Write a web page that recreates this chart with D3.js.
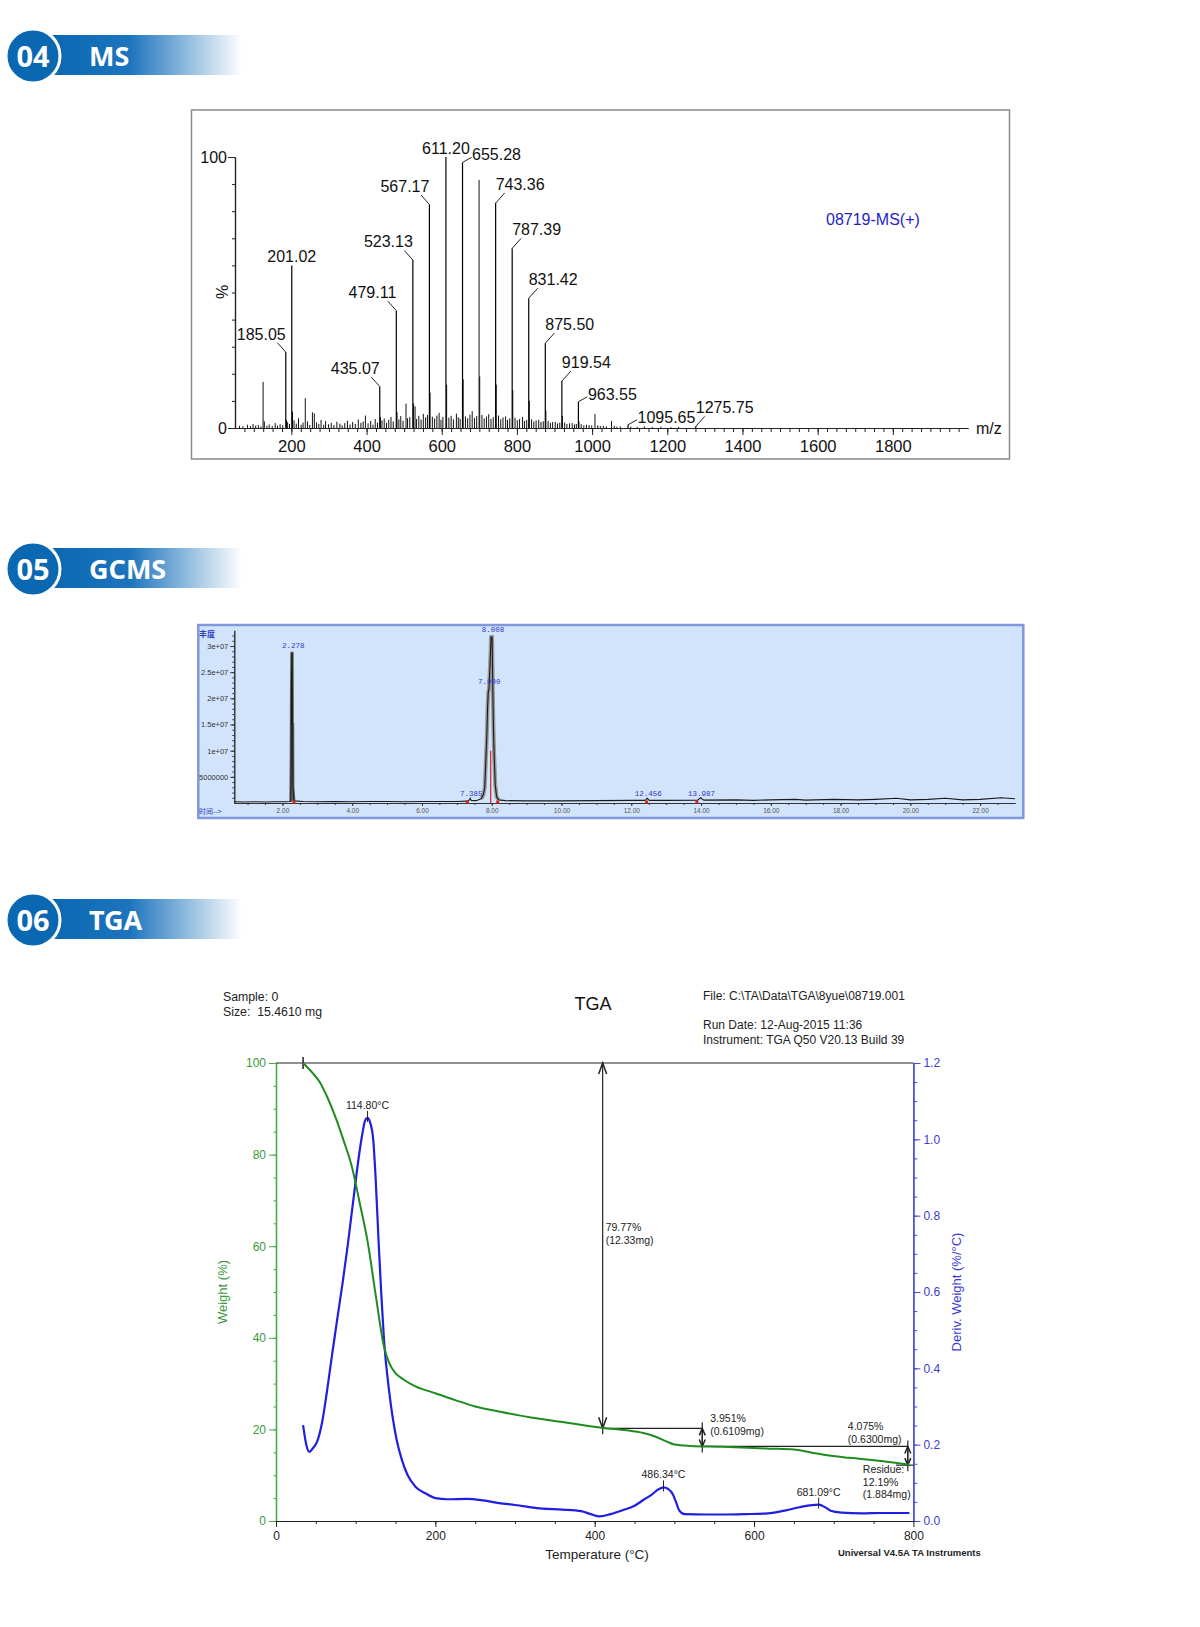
<!DOCTYPE html>
<html>
<head>
<meta charset="utf-8">
<script src="https://cdn.jsdelivr.net/npm/d3@7"></script>
<style>
  body { margin: 0; background: #fff; }
  svg { display: block; }
  text { font-family: "Liberation Sans", Arial, sans-serif; }
</style>
</head>
<body>
<div id="canvas"></div>
<script>
"use strict";

/* ---------------- Data ---------------- */

// section headers
let sectionNumbers = ["04", "05", "06"];
let sectionTitles = ["MS", "GCMS", "TGA"];

// MS: labelled peaks (m/z, relative intensity %)
let msLabelMz = [185.05, 201.02, 435.07, 479.11, 523.13, 567.17, 611.20, 655.28,
  743.36, 787.39, 831.42, 875.50, 919.54, 963.55, 1095.65, 1275.75];
let msLabelPct = [28, 60, 15.3, 43.3, 62, 82.5, 100, 98,
  83, 66.3, 47.9, 31.3, 17.3, 9.7, 1.2, 0.6];

// MS: unlabelled peaks [m/z, %]
let msOtherPeaks = [
  [124.7, 17], [237, 11], [699.3, 91.5], [1007.6, 5.2], [1051.6, 2.6],
  [187, 3], [203, 6], [437, 4], [481, 6], [525, 9], [569, 13], [613, 16], [657, 18],
  [701, 19], [745, 16], [789, 14], [833, 10], [877, 6.5], [921, 4.5], [965, 2.5],
  [62, 0.8], [71, 0.6], [83, 1.2], [91, 0.7], [98, 1.5], [105, 0.9], [112, 1.1], [119, 0.6],
  [128, 2.5], [135, 0.8], [141, 1.3], [149, 0.7], [157, 1.8], [163, 0.9], [170, 1.4], [177, 1.0],
  [190, 2.2], [195, 1.5], [207, 2.8], [213, 1.6], [219, 3.6], [226, 1.2], [231, 2.0], [243, 2.4],
  [249, 1.1], [256, 5.8], [261, 5.4], [267, 2.1], [273, 1.5], [279, 3.0], [286, 1.2], [291, 2.6],
  [299, 1.4], [306, 1.9], [313, 1.1], [321, 2.3], [329, 1.6], [335, 1.0], [342, 1.8], [349, 2.7],
  [356, 1.3], [363, 2.2], [370, 1.5], [378, 3.1], [385, 1.9], [391, 2.4], [397, 4.6], [404, 1.7],
  [411, 2.6], [417, 1.2], [423, 3.3], [429, 2.0], [441, 2.8], [447, 3.5], [453, 1.9], [459, 3.0],
  [465, 4.1], [471, 2.4], [486, 3.2], [491, 4.4], [497, 2.7], [505, 9.0], [509, 3.6], [515, 4.0],
  [529, 8.0], [533, 3.3], [539, 4.5], [545, 3.1], [551, 5.2], [557, 3.9], [562, 4.8], [575, 4.2],
  [581, 3.5], [587, 4.6], [593, 5.6], [598, 3.0], [603, 4.1], [619, 3.8], [625, 4.5], [631, 3.2],
  [639, 5.3], [644, 4.0], [649, 3.4], [663, 4.3], [669, 3.6], [675, 4.9], [681, 6.2], [687, 3.7],
  [693, 4.4], [707, 4.8], [713, 3.5], [719, 4.2], [725, 5.1], [731, 3.3], [737, 4.0], [751, 4.6],
  [757, 3.2], [763, 3.9], [770, 4.3], [775, 3.0], [781, 3.6], [795, 3.8], [801, 2.9], [807, 3.3],
  [815, 4.1], [820, 2.6], [826, 3.0], [839, 3.2], [845, 2.4], [851, 2.8], [858, 3.0], [864, 2.2],
  [870, 2.5], [883, 2.6], [889, 1.9], [895, 2.2], [902, 2.3], [908, 1.7], [914, 2.0], [927, 2.0],
  [933, 1.5], [940, 1.7], [947, 1.8], [953, 1.3], [958, 1.5], [971, 1.4], [978, 1.0], [985, 1.2],
  [992, 1.1], [999, 0.9], [1015, 1.0], [1022, 0.7], [1030, 0.8], [1038, 0.6], [1059, 0.8],
  [1066, 0.5], [1075, 0.6], [1103, 0.5], [1120, 0.4], [1139, 0.6], [1160, 0.4], [1183, 0.5],
  [1210, 0.3], [1230, 0.4]
];
let msTickValues = [200, 400, 600, 800, 1000, 1200, 1400, 1600, 1800];
let msTag = "08719-MS(+)";

// GCMS: chromatogram trace [time (min), abundance x 1e6]
let gcTrace = [
  [0.62, 0.25], [0.9, 0.2], [1.2, 0.25], [1.5, 0.2], [1.8, 0.25], [2.1, 0.25], [2.24, 0.3],
  [2.25, 8], [2.258, 21], [2.268, 28.6], [2.28, 28.6], [2.285, 15], [2.295, 15], [2.3, 3],
  [2.33, 0.4], [2.6, 0.3], [3.0, 0.25], [3.5, 0.3], [4.0, 0.25], [4.5, 0.3], [5.0, 0.3],
  [5.5, 0.25], [6.0, 0.3], [6.5, 0.3], [7.0, 0.3], [7.3, 0.35], [7.36, 0.6], [7.385, 0.9],
  [7.41, 0.5], [7.55, 0.45], [7.70, 0.8], [7.76, 1.6], [7.80, 3], [7.83, 8], [7.86, 13],
  [7.88, 18], [7.90, 21.2], [7.92, 21.8], [7.95, 26], [7.98, 31.7], [8.01, 31.7], [8.03, 22],
  [8.05, 14], [8.07, 9], [8.10, 3.5], [8.14, 1.2], [8.2, 0.6], [8.4, 0.45], [9.0, 0.4],
  [10.0, 0.4], [11.0, 0.45], [12.0, 0.5], [12.40, 0.5], [12.456, 0.9], [12.52, 0.5], [13.0, 0.5],
  [13.9, 0.55], [13.987, 1.0], [14.08, 0.55], [15.0, 0.6], [15.5, 0.5], [16.0, 0.6], [16.7, 0.7],
  [17.0, 0.55], [17.8, 0.7], [18.5, 0.6], [19.0, 0.7], [19.6, 0.9], [20.0, 0.6], [20.5, 0.7],
  [21.0, 0.9], [21.5, 0.6], [22.0, 0.7], [22.6, 1.0], [23.0, 0.8]
];
let gcPeakTimes = [2.278, 7.385, 7.900, 8.008, 12.456, 13.987];
let gcBaseMarks = [2.33, 7.30, 8.17, 12.44, 13.88];
let gcSplitTimes = [7.97];
let gcYTicks = [5e6, 1e7, 1.5e7, 2e7, 2.5e7, 3e7];
let gcYLabels = ["5000000", "1e+07", "1.5e+07", "2e+07", "2.5e+07", "3e+07"];
let gcXTicks = [2, 4, 6, 8, 10, 12, 14, 16, 18, 20, 22];

// TGA: weight (%) and derivative weight (%/°C) versus temperature (°C)
let tgaWeight = [
  [34, 100], [45, 98], [55, 95.8], [65, 92.3], [75, 88], [85, 83], [95, 77.5], [105, 69.5],
  [115, 61], [125, 49.5], [135, 38.5], [142, 34.5], [150, 32.3], [160, 30.9], [175, 29.4],
  [200, 27.9], [225, 26.4], [250, 25], [280, 23.9], [320, 22.6], [360, 21.6], [410, 20.3],
  [440, 19.8], [461, 19.2], [475, 18.5], [490, 17.4], [500, 16.7], [520, 16.4], [560, 16.2],
  [620, 15.8], [650, 15.6], [670, 15], [690, 14.4], [720, 13.8], [760, 13.1], [795, 12.3]
];
let tgaDeriv = [
  [34, 0.251], [38, 0.2], [42, 0.181], [46, 0.19], [52, 0.21], [58, 0.26], [64, 0.34],
  [70, 0.43], [77, 0.531], [84, 0.63], [90, 0.722], [97, 0.84], [103, 0.94], [108, 1.01],
  [112, 1.05], [114.8, 1.056], [118, 1.045], [122, 1.0], [125, 0.9], [129, 0.722], [132, 0.6],
  [135.5, 0.476], [142, 0.34], [151, 0.217], [158, 0.16], [165, 0.121], [175, 0.09],
  [188, 0.072], [200, 0.06], [215, 0.057], [240, 0.058], [260, 0.054], [280, 0.047],
  [300, 0.042], [331, 0.033], [360, 0.03], [383, 0.026], [395, 0.018], [406, 0.012],
  [420, 0.018], [435, 0.028], [450, 0.04], [461, 0.055], [472, 0.07], [480, 0.083],
  [486.34, 0.088], [492, 0.084], [498, 0.07], [502, 0.05], [506, 0.028], [513, 0.018],
  [540, 0.017], [565, 0.017], [590, 0.018], [617, 0.02], [640, 0.028], [657, 0.036],
  [670, 0.041], [681.09, 0.043], [690, 0.035], [696, 0.027], [710, 0.022], [735, 0.02],
  [760, 0.021], [780, 0.021], [795, 0.021]
];
let tgaPeakTemps = [114.80, 486.34, 681.09];
let tgaLevels = [100, 20.23, 16.28, 12.19];
let tgaStepTemps = [410, 535, 793];
let tgaStepPct = ["79.77%", "3.951%", "4.075%"];
let tgaStepMg = ["(12.33mg)", "(0.6109mg)", "(0.6300mg)"];
let tgaResidue = ["Residue:", "12.19%", "(1.884mg)"];
let tgaStartTemp = 34;
let tgaInfoLeft = ["Sample: 0", "Size:  15.4610 mg"];
let tgaInfoRight = ["File: C:\\TA\\Data\\TGA\\8yue\\08719.001",
  "Run Date: 12-Aug-2015 11:36", "Instrument: TGA Q50 V20.13 Build 39"];

/* ---------------- Canvas ---------------- */
let svgWidth = 1200;
let svgHeight = 1627;

let svg = d3.select("#canvas")
  .append("svg")
  .attr("width", svgWidth)
  .attr("height", svgHeight);

let defs = svg.append("defs");
let grad = defs.append("linearGradient").attr("id", "barGrad");
grad.append("stop").attr("offset", "0").attr("stop-color", "#0a67b2");
grad.append("stop").attr("offset", "0.42").attr("stop-color", "#1c74bd");
grad.append("stop").attr("offset", "1").attr("stop-color", "#ffffff");

/* ---------------- Section headers ---------------- */
let headerCy = [56, 569, 920];

sectionNumbers.forEach((num, i) => {
  let cy = headerCy[i];
  let g = svg.append("g");
  g.append("rect")
    .attr("x", 48).attr("y", cy - 21)
    .attr("width", 194).attr("height", 40)
    .attr("fill", "url(#barGrad)");
  g.append("circle")
    .attr("cx", 33).attr("cy", cy).attr("r", 27)
    .attr("fill", "#0a67b2")
    .attr("stroke", "#fff").attr("stroke-width", 3);
  g.append("text")
    .attr("x", 33).attr("y", cy + 11)
    .attr("text-anchor", "middle")
    .attr("fill", "#fff")
    .style("font-family", "'Noto Sans', sans-serif")
    .style("font-weight", "bold")
    .style("font-size", "29px")
    .text(num);
  g.append("text")
    .attr("x", 89).attr("y", cy + 10)
    .attr("fill", "#fff")
    .style("font-family", "'Noto Sans', sans-serif")
    .style("font-weight", "bold")
    .style("font-size", "27px")
    .text(sectionTitles[i]);
});

/* ---------------- MS spectrum ---------------- */
let ms = svg.append("g");

ms.append("rect")
  .attr("x", 191.5).attr("y", 110)
  .attr("width", 818).attr("height", 349)
  .attr("fill", "#fff")
  .attr("stroke", "#8a8a8a").attr("stroke-width", 1.5);

let msX = d3.scaleLinear().domain([50, 2000]).range([235, 968]);
let msY = d3.scaleLinear().domain([0, 100]).range([428, 157]);

// peaks
ms.selectAll("line.other")
  .data(msOtherPeaks)
  .join("line")
  .attr("class", "other")
  .attr("x1", d => msX(d[0])).attr("x2", d => msX(d[0]))
  .attr("y1", msY(0)).attr("y2", d => msY(d[1]))
  .attr("stroke", "#111").attr("stroke-width", 1);

let msLabelled = msLabelMz.map((m, i) => ({ mz: m, pct: msLabelPct[i] }));

ms.selectAll("line.major")
  .data(msLabelled)
  .join("line")
  .attr("class", "major")
  .attr("x1", d => msX(d.mz)).attr("x2", d => msX(d.mz))
  .attr("y1", msY(0)).attr("y2", d => msY(d.pct))
  .attr("stroke", "#000").attr("stroke-width", 1.2);

// axes
let msXMinor = ms.append("g")
  .attr("transform", `translate(0,${msY(0)})`)
  .call(d3.axisBottom(msX).tickValues(d3.range(75, 2000, 25)).tickSize(4).tickFormat("").tickSizeOuter(0));

let msXAxis = ms.append("g")
  .attr("transform", `translate(0,${msY(0)})`)
  .call(d3.axisBottom(msX).tickValues(msTickValues).tickSize(7).tickPadding(5)
    .tickFormat(d3.format("d")).tickSizeOuter(0));
msXAxis.selectAll("text").style("font-size", "16.5px").attr("fill", "#111");

let msYMinor = ms.append("g")
  .attr("transform", `translate(${msX(50)},0)`)
  .call(d3.axisLeft(msY).tickValues(d3.range(10, 100, 10)).tickSize(3).tickFormat("").tickSizeOuter(0));

let msYAxis = ms.append("g")
  .attr("transform", `translate(${msX(50)},0)`)
  .call(d3.axisLeft(msY).tickValues([0, 100]).tickSize(7).tickPadding(1).tickSizeOuter(0));
msYAxis.selectAll("text").style("font-size", "16px").attr("fill", "#111");

[msXMinor, msXAxis, msYMinor, msYAxis].forEach(a => {
  a.selectAll("line").attr("stroke", "#222");
  a.select(".domain").attr("stroke", "#222").attr("stroke-width", 1.2);
});

ms.append("text")
  .attr("x", 976).attr("y", 434)
  .style("font-size", "16px").attr("fill", "#111")
  .text("m/z");

ms.append("text")
  .attr("transform", `translate(228,292) rotate(-90)`)
  .attr("text-anchor", "middle")
  .style("font-size", "16px").attr("fill", "#111")
  .text("%");

ms.append("text")
  .attr("x", 826).attr("y", 225)
  .style("font-size", "16px").attr("fill", "#2323c8")
  .text(msTag);

// peak labels: c = centred above, l = up-left leader, r = up-right leader, s = side leader
let msLabelSide = ["l", "c", "l", "l", "l", "l", "c", "s",
  "r", "r", "r", "r", "r", "s", "s", "r"];
let fmt2 = d3.format(".2f");

msLabelled.forEach((d, i) => {
  let px = msX(d.mz);
  let top = msY(d.pct);
  let side = msLabelSide[i];
  let tx = px, ty = top - 3.5, anchor = "middle", leader = null;
  if (side === "l") {
    tx = px; ty = top - 12.5; anchor = "end";
    leader = [px - 8.5, top - 9.5, px, top];
  } else if (side === "r") {
    tx = px; ty = top - 13; anchor = "start";
    leader = [px, top, px + 9, top - 10];
  } else if (side === "s") {
    tx = px + 9.5; ty = top - 2; anchor = "start";
    leader = [px, top, px + 9, top - 5];
  }
  if (leader) {
    ms.append("line")
      .attr("x1", leader[0]).attr("y1", leader[1])
      .attr("x2", leader[2]).attr("y2", leader[3])
      .attr("stroke", "#222").attr("stroke-width", 1);
  }
  ms.append("text")
    .attr("x", tx).attr("y", ty)
    .attr("text-anchor", anchor)
    .style("font-size", "16px").attr("fill", "#111")
    .text(fmt2(d.mz));
});

/* ---------------- GCMS chromatogram ---------------- */
let gc = svg.append("g");

gc.append("rect")
  .attr("x", 198.3).attr("y", 625)
  .attr("width", 825).attr("height", 193)
  .attr("fill", "#d2e4fb")
  .attr("stroke", "#7f98dc").attr("stroke-width", 2.5);

let gcX = d3.scaleLinear().domain([0.62, 23]).range([234.3, 1015]);
let gcY = d3.scaleLinear().domain([0, 3.3e7]).range([803, 630.3]);

let gcYMinor = gc.append("g")
  .attr("transform", `translate(${gcX(0.62)},0)`)
  .call(d3.axisLeft(gcY).tickValues(d3.range(1e6, 3.3e7, 1e6)).tickSize(2).tickFormat("").tickSizeOuter(0));
let gcYAxis = gc.append("g")
  .attr("transform", `translate(${gcX(0.62)},0)`)
  .call(d3.axisLeft(gcY).tickValues(gcYTicks).tickSize(4).tickPadding(2)
    .tickFormat((d, i) => gcYLabels[i]).tickSizeOuter(0));
gcYAxis.selectAll("text").style("font-size", "7.5px").attr("fill", "#333");

let gcXMinor = gc.append("g")
  .attr("transform", `translate(0,${gcY(0)})`)
  .call(d3.axisBottom(gcX).tickValues(d3.range(1, 23, 0.5)).tickSize(2).tickFormat("").tickSizeOuter(0));
let gcXAxis = gc.append("g")
  .attr("transform", `translate(0,${gcY(0)})`)
  .call(d3.axisBottom(gcX).tickValues(gcXTicks).tickSize(3).tickPadding(2)
    .tickFormat(d3.format(".2f")).tickSizeOuter(0));
gcXAxis.selectAll("text").style("font-size", "6.5px").attr("fill", "#555");

[gcYMinor, gcYAxis, gcXMinor, gcXAxis].forEach(a => {
  a.selectAll("line").attr("stroke", "#333");
  a.select(".domain").attr("stroke", "#333").attr("stroke-width", 1);
});

let gcLine = d3.line()
  .x(d => gcX(d[0]))
  .y(d => gcY(d[1] * 1e6));

// grey envelope around the main peaks
gc.append("path")
  .datum(gcTrace.filter(d => d[0] > 7.6 && d[0] < 8.3))
  .attr("d", gcLine)
  .attr("fill", "none")
  .attr("stroke", "#9a9a9a").attr("stroke-width", 4);

gc.append("path")
  .datum(gcTrace.filter(d => d[0] > 2.2 && d[0] < 2.35))
  .attr("d", gcLine)
  .attr("fill", "none")
  .attr("stroke", "#666").attr("stroke-width", 3);

gc.append("path")
  .datum(gcTrace)
  .attr("d", gcLine)
  .attr("fill", "none")
  .attr("stroke", "#1a1a1a").attr("stroke-width", 1.1);

// integration marks
gc.selectAll("line.split")
  .data(gcSplitTimes)
  .join("line")
  .attr("class", "split")
  .attr("x1", d => gcX(d)).attr("x2", d => gcX(d))
  .attr("y1", gcY(0)).attr("y2", gcY(1e7))
  .attr("stroke", "#c8281e").attr("stroke-width", 1.2);

gc.selectAll("rect.mark")
  .data(gcBaseMarks)
  .join("rect")
  .attr("class", "mark")
  .attr("x", d => gcX(d) - 1.5).attr("y", gcY(0) - 2.5)
  .attr("width", 3).attr("height", 3)
  .attr("fill", "#e0201a");

// peak time labels
let fmt3 = d3.format(".3f");
gcPeakTimes.forEach(t => {
  let near = gcTrace.filter(d => Math.abs(d[0] - t) < 0.03);
  let peak = d3.max(near, d => d[1]);
  gc.append("text")
    .attr("x", gcX(t) + 1).attr("y", gcY(peak * 1e6) - (peak > 5 ? 5 : 2))
    .attr("text-anchor", "middle")
    .style("font-family", "'Liberation Mono', monospace")
    .style("font-size", "7.5px").attr("fill", "#3434c8")
    .text(fmt3(t));
});

gc.append("text")
  .attr("x", 199).attr("y", 637)
  .style("font-family", "'Noto Sans CJK SC', sans-serif")
  .style("font-size", "8px").style("font-weight", "bold")
  .attr("fill", "#2a3fc0")
  .text("丰度");

gc.append("text")
  .attr("x", 199).attr("y", 814)
  .style("font-family", "'Noto Sans CJK SC', sans-serif")
  .style("font-size", "7px")
  .attr("fill", "#2a3fc0")
  .text("时间-->");

/* ---------------- TGA ---------------- */
let tg = svg.append("g");

let tX = d3.scaleLinear().domain([0, 800]).range([276, 913.4]);
let tW = d3.scaleLinear().domain([0, 100]).range([1521, 1063]);
let tD = d3.scaleLinear().domain([0, 1.2]).range([1521, 1063]);

// header texts
tgaInfoLeft.forEach((s, i) => {
  tg.append("text")
    .attr("x", 223).attr("y", 1001 + i * 15)
    .style("font-size", "12.3px").attr("fill", "#222")
    .style("white-space", "pre")
    .attr("xml:space", "preserve")
    .text(s);
});
tg.append("text")
  .attr("x", 593).attr("y", 1010)
  .attr("text-anchor", "middle")
  .style("font-size", "18px").attr("fill", "#111")
  .text("TGA");
tgaInfoRight.forEach((s, i) => {
  tg.append("text")
    .attr("x", 703).attr("y", [1000, 1029, 1044][i])
    .style("font-size", "12px").attr("fill", "#222")
    .text(s);
});

// axes
let tgLeftMinor = tg.append("g")
  .attr("transform", `translate(${tX(0)},0)`)
  .call(d3.axisLeft(tW).tickValues(d3.range(5, 100, 5)).tickSize(2.5).tickFormat("").tickSizeOuter(0));
let tgLeft = tg.append("g")
  .attr("transform", `translate(${tX(0)},0)`)
  .call(d3.axisLeft(tW).tickValues(d3.range(0, 101, 20)).tickSize(7).tickPadding(3).tickSizeOuter(0));
[tgLeftMinor, tgLeft].forEach(a => {
  a.selectAll("line").attr("stroke", "#47a847");
  a.select(".domain").attr("stroke", "#47a847").attr("stroke-width", 1.3);
});
tgLeft.selectAll("text").style("font-size", "12px").attr("fill", "#3a9a3a");

let tgRightMinor = tg.append("g")
  .attr("transform", `translate(${tX(800)},0)`)
  .call(d3.axisRight(tD).tickValues(d3.range(0.05, 1.2, 0.05)).tickSize(4).tickFormat("").tickSizeOuter(0));
let tgRight = tg.append("g")
  .attr("transform", `translate(${tX(800)},0)`)
  .call(d3.axisRight(tD).tickValues(d3.range(0, 1.21, 0.2)).tickSize(7).tickPadding(3)
    .tickFormat(d3.format(".1f")).tickSizeOuter(0));
[tgRightMinor, tgRight].forEach(a => {
  a.selectAll("line").attr("stroke", "#4b4bd6");
  a.select(".domain").attr("stroke", "#4b4bd6").attr("stroke-width", 1.3);
});
tgRight.selectAll("text").style("font-size", "12px").attr("fill", "#3c3cd0");

let tgBottomMinor = tg.append("g")
  .attr("transform", `translate(0,${tW(0)})`)
  .call(d3.axisBottom(tX).tickValues(d3.range(50, 800, 50)).tickSize(3).tickFormat("").tickSizeOuter(0));
let tgBottom = tg.append("g")
  .attr("transform", `translate(0,${tW(0)})`)
  .call(d3.axisBottom(tX).tickValues(d3.range(0, 801, 200)).tickSize(6).tickPadding(4).tickSizeOuter(0));
[tgBottomMinor, tgBottom].forEach(a => {
  a.selectAll("line").attr("stroke", "#222");
  a.select(".domain").attr("stroke", "#222").attr("stroke-width", 1.2);
});
tgBottom.selectAll("text").style("font-size", "12px").attr("fill", "#222");

// axis titles
tg.append("text")
  .attr("transform", "translate(227,1292) rotate(-90)")
  .attr("text-anchor", "middle")
  .style("font-size", "13px").attr("fill", "#3a9a3a")
  .text("Weight (%)");
tg.append("text")
  .attr("transform", "translate(961,1292) rotate(-90)")
  .attr("text-anchor", "middle")
  .style("font-size", "13px").attr("fill", "#3c3cd0")
  .text("Deriv. Weight (%/°C)");
tg.append("text")
  .attr("x", 597).attr("y", 1559)
  .attr("text-anchor", "middle")
  .style("font-size", "13.5px").attr("fill", "#222")
  .text("Temperature (°C)");
tg.append("text")
  .attr("x", 838).attr("y", 1556)
  .style("font-size", "9.5px").style("font-weight", "bold").attr("fill", "#222")
  .text("Universal V4.5A TA Instruments");

// step analysis lines
let stepColor = "#222";
tg.append("line")
  .attr("x1", tX(0)).attr("x2", tX(800))
  .attr("y1", tW(tgaLevels[0])).attr("y2", tW(tgaLevels[0]))
  .attr("stroke", stepColor).attr("stroke-width", 1.2);
tg.append("line")
  .attr("x1", tX(tgaStartTemp)).attr("x2", tX(tgaStartTemp))
  .attr("y1", tW(100) - 6).attr("y2", tW(100) + 6)
  .attr("stroke", stepColor).attr("stroke-width", 1.5);

tgaStepTemps.forEach((t, i) => {
  let sx = tX(t);
  let yTop = tW(tgaLevels[i]);
  let yBot = tW(tgaLevels[i + 1]);
  // vertical
  tg.append("line")
    .attr("x1", sx).attr("x2", sx)
    .attr("y1", yTop).attr("y2", yBot)
    .attr("stroke", stepColor).attr("stroke-width", 1.2);
  // horizontal at the lower level
  let xEnd = i < tgaStepTemps.length - 1 ? tX(tgaStepTemps[i + 1]) : tX(800);
  let xStart = i < tgaStepTemps.length - 1 ? sx : sx - 12;
  tg.append("line")
    .attr("x1", xStart).attr("x2", xEnd)
    .attr("y1", yBot).attr("y2", yBot)
    .attr("stroke", stepColor).attr("stroke-width", 1.2);
  // arrow heads
  let ah = i === 0 ? 11 : 7;
  let aw = i === 0 ? 4 : 3;
  tg.append("path")
    .attr("d", `M${sx - aw},${yTop + ah} L${sx},${yTop} L${sx + aw},${yTop + ah}`)
    .attr("fill", "none").attr("stroke", stepColor).attr("stroke-width", 1.5);
  tg.append("path")
    .attr("d", `M${sx - aw},${yBot - ah} L${sx},${yBot} L${sx + aw},${yBot - ah}`)
    .attr("fill", "none").attr("stroke", stepColor).attr("stroke-width", 1.5);
  // cross tick
  tg.append("line")
    .attr("x1", sx).attr("x2", sx)
    .attr("y1", i === 0 ? yBot - 2 : yTop - 6).attr("y2", yBot + 6)
    .attr("stroke", stepColor).attr("stroke-width", 1.2);
});

// curves
let weightLine = d3.line()
  .x(d => tX(d[0]))
  .y(d => tW(d[1]))
  .curve(d3.curveMonotoneX);
let derivLine = d3.line()
  .x(d => tX(d[0]))
  .y(d => tD(d[1]))
  .curve(d3.curveMonotoneX);

tg.append("path")
  .datum(tgaDeriv)
  .attr("d", derivLine)
  .attr("fill", "none")
  .attr("stroke", "#1f1fe0").attr("stroke-width", 2.2);

tg.append("path")
  .datum(tgaWeight)
  .attr("d", weightLine)
  .attr("fill", "none")
  .attr("stroke", "#1e8c1e").attr("stroke-width", 2);

// step annotations
let annoSize = "10.5px";
let annoPos = [
  [tX(tgaStepTemps[0]) + 3, 1231],
  [tX(tgaStepTemps[1]) + 8, 1422],
  [tX(tgaStepTemps[2]) - 60, 1430]
];
tgaStepPct.forEach((s, i) => {
  tg.append("text")
    .attr("x", annoPos[i][0]).attr("y", annoPos[i][1])
    .style("font-size", annoSize).attr("fill", "#222")
    .text(s);
  tg.append("text")
    .attr("x", annoPos[i][0]).attr("y", annoPos[i][1] + 12.5)
    .style("font-size", annoSize).attr("fill", "#222")
    .text(tgaStepMg[i]);
});
tgaResidue.forEach((s, i) => {
  tg.append("text")
    .attr("x", tX(tgaStepTemps[2]) - 45).attr("y", 1473 + i * 12.5)
    .style("font-size", annoSize).attr("fill", "#222")
    .text(s);
});

// derivative peak labels
tgaPeakTemps.forEach(t => {
  let near = tgaDeriv.find(d => d[0] === t);
  let py = tD(near[1]);
  tg.append("line")
    .attr("x1", tX(t)).attr("x2", tX(t))
    .attr("y1", py - 7).attr("y2", py + 4)
    .attr("stroke", "#222").attr("stroke-width", 1);
  tg.append("text")
    .attr("x", tX(t)).attr("y", py - 9)
    .attr("text-anchor", "middle")
    .style("font-size", annoSize).attr("fill", "#222")
    .text(fmt2(t) + "°C");
});
</script>
</body>
</html>
